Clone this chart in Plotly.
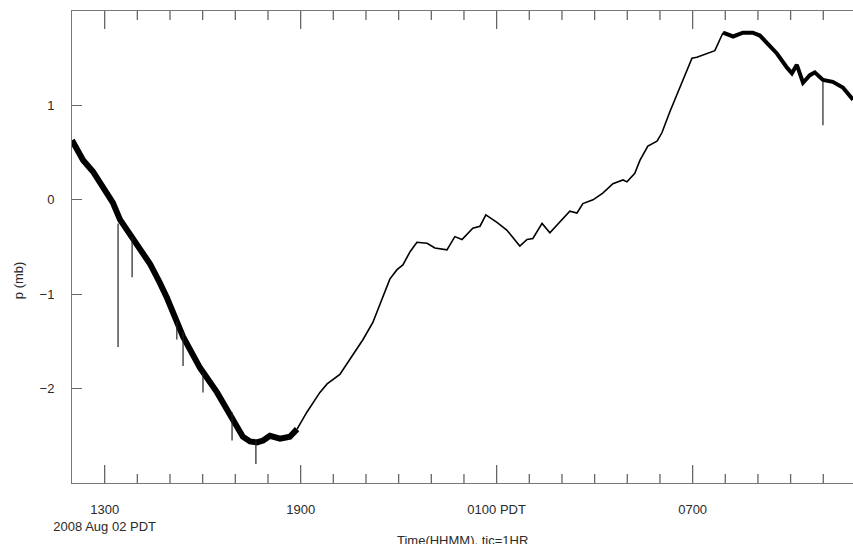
import plotly.graph_objects as go

# time in hours since 00:00 on 2008 Aug 02 PDT (values > 24 are Aug 03)
hours = [12.00, 12.34, 12.64, 12.86, 13.25, 13.47, 13.87, 14.39, 14.69, 14.91,
         15.40, 15.92, 16.44, 16.93, 17.23, 17.45, 17.66, 17.85, 18.06, 18.37,
         18.67, 18.89, 19.19, 19.59, 19.81, 20.20, 20.72, 20.91, 21.21, 21.52,
         21.73, 21.95, 22.13, 22.35, 22.56, 22.87, 23.11, 23.48, 23.72, 23.94,
         24.27, 24.49, 24.67, 25.01, 25.31, 25.71, 25.93, 26.11, 26.39, 26.63,
         26.94, 27.24, 27.46, 27.64, 27.95, 28.25, 28.56, 28.87, 28.99, 29.23,
         29.39, 29.63, 29.91, 30.06, 30.30, 30.61, 30.98, 31.13, 31.44, 31.68,
         31.93, 32.24, 32.54, 32.84, 33.06, 33.27, 33.58, 33.89, 34.04, 34.19,
         34.38, 34.59, 34.74, 34.99, 35.29, 35.60, 35.91]
pressure = [0.63, 0.42, 0.30, 0.18, -0.03, -0.21, -0.42, -0.68, -0.88, -1.04,
            -1.45, -1.78, -2.04, -2.32, -2.51, -2.56, -2.57, -2.55, -2.50, -2.53,
            -2.51, -2.43, -2.25, -2.04, -1.95, -1.85, -1.58, -1.48, -1.30, -1.02,
            -0.84, -0.74, -0.69, -0.55, -0.45, -0.46, -0.51, -0.53, -0.39, -0.42,
            -0.30, -0.28, -0.16, -0.24, -0.32, -0.49, -0.42, -0.41, -0.25, -0.35,
            -0.23, -0.12, -0.14, -0.04, 0.00, 0.07, 0.17, 0.21, 0.19, 0.28,
            0.42, 0.57, 0.62, 0.71, 0.93, 1.19, 1.50, 1.51, 1.55, 1.58,
            1.77, 1.73, 1.77, 1.77, 1.74, 1.66, 1.55, 1.40, 1.34, 1.43,
            1.24, 1.32, 1.35, 1.27, 1.25, 1.19, 1.06]

# isolated downward spikes: time, level before spike, spike minimum
spike_hours = [13.41, 13.84, 15.21, 15.40, 16.01, 16.90, 17.63, 34.99]
spike_top = [-0.25, -0.40, -1.29, -1.40, -1.83, -2.25, -2.55, 1.25]
spike_low = [-1.56, -0.82, -1.48, -1.76, -2.04, -2.55, -2.80, 0.79]

hour_ticks = list(range(13, 36))
tick_hours = [13, 19, 25, 31]
tick_text = ["1300<br>2008 Aug 02 PDT", "1900", "0100 PDT", "0700"]
y_ticks = [-2, -1, 0, 1]

# noisy / quiet portions of the record (line style only)
segments = [(12.0, 18.89, 6.0), (18.89, 31.93, 1.6), (31.93, 36.0, 4.0)]

fig = go.Figure()
for lo, hi, w in segments:
    xs = [h for h in hours if lo <= h <= hi]
    ys = [p for h, p in zip(hours, pressure) if lo <= h <= hi]
    fig.add_trace(go.Scatter(x=xs, y=ys, mode="lines",
                             line=dict(color="black", width=w),
                             showlegend=False, hoverinfo="skip"))

sx, sy = [], []
for h, t, l in zip(spike_hours, spike_top, spike_low):
    sx += [h, h, None]
    sy += [t, l, None]
fig.add_trace(go.Scatter(x=sx, y=sy, mode="lines",
                         line=dict(color="#222", width=1.2),
                         showlegend=False, hoverinfo="skip"))

axcol = "#777777"
font = dict(family="Liberation Sans, Arial, sans-serif", size=13, color="#2a2a2a")
plot_h = 544 - 11 - 61
minor_len = 9 / plot_h
major_len = 18 / plot_h

# hourly tick marks on bottom and top frame, placed through the x scale
shapes = []
for h in hour_ticks:
    ln = major_len if h in tick_hours else minor_len
    for y0, y1 in [(0, ln), (1, 1 - ln)]:
        shapes.append(dict(type="line", xref="x", yref="paper",
                           x0=h, x1=h, y0=y0, y1=y1,
                           line=dict(color="#666666", width=1.3),
                           layer="above"))

fig.update_layout(
    width=853, height=544,
    margin=dict(l=72, r=0, t=11, b=61),
    paper_bgcolor="white", plot_bgcolor="white",
    font=font,
    shapes=shapes,
    xaxis=dict(range=[12, 35.91], showline=True, linecolor=axcol, linewidth=1,
               mirror=True, ticks="", tickmode="array", tickvals=tick_hours,
               ticktext=tick_text, showgrid=False, zeroline=False,
               ticklabelstandoff=14),
    yaxis=dict(range=[-3, 2], showline=True, linecolor=axcol, linewidth=1,
               mirror=False, ticks="inside", ticklen=10, tickwidth=1.3,
               tickcolor="#666666", tickmode="array", tickvals=y_ticks,
               showgrid=False, zeroline=False, ticklabelstandoff=14),
    annotations=[
        dict(text="Time(HHMM), tic=1HR", xref="paper", yref="paper",
             x=0.5, y=-0.121, xanchor="center", yanchor="middle",
             showarrow=False, font=font),
        dict(text="p (mb)", xref="paper", yref="paper", textangle=-90,
             x=-0.069, y=0.43, xanchor="center", yanchor="middle",
             showarrow=False, font=font),
    ],
)

fig.write_html("out.html")
